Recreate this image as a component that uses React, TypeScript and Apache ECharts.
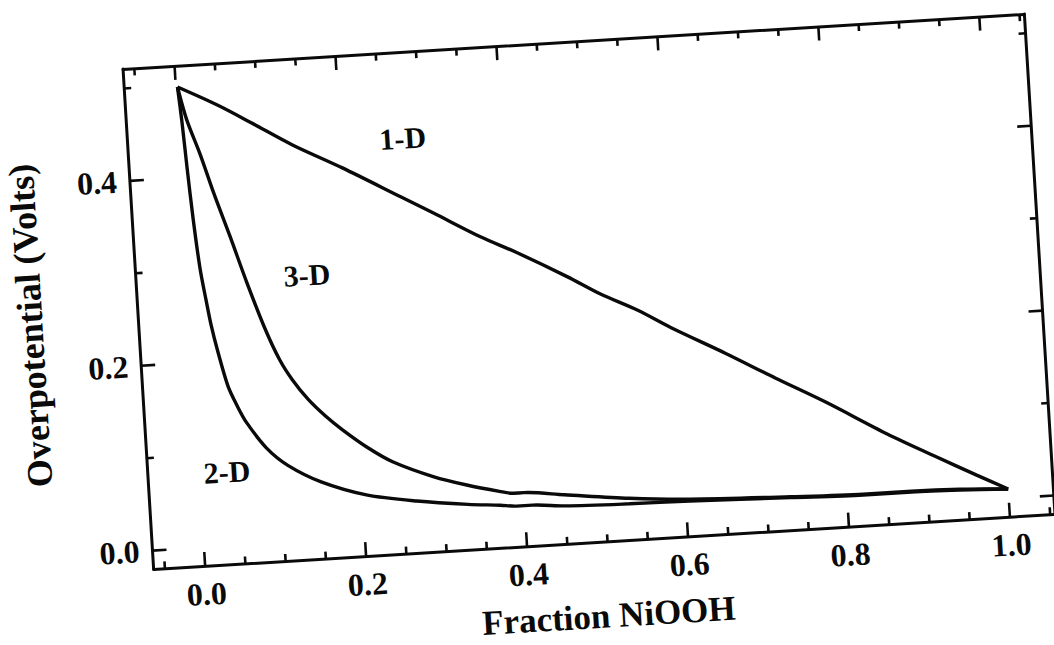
import React, { useEffect, useRef } from "react";
import * as echarts from "echarts";

// Overpotential vs. fraction NiOOH for 1-D, 2-D and 3-D diffusion geometries
const curve1D: [number, number][] = [
  [0.002, 0.498], [0.05, 0.476], [0.09, 0.455], [0.14, 0.428], [0.2, 0.4],
  [0.27, 0.365], [0.31, 0.345], [0.365, 0.317], [0.41, 0.297], [0.47, 0.268],
  [0.51, 0.247], [0.555, 0.227], [0.595, 0.206], [0.66, 0.175], [0.72, 0.145],
  [0.78, 0.116], [0.855, 0.077], [0.91, 0.051], [0.962, 0.027], [1.0, 0.01],
];

const curve2D: [number, number][] = [
  [0.002, 0.498], [0.0048, 0.462], [0.0078, 0.41], [0.0115, 0.354], [0.0163, 0.3],
  [0.0215, 0.265], [0.0255, 0.24], [0.032, 0.21], [0.042, 0.172], [0.052, 0.15],
  [0.062, 0.132], [0.085, 0.103], [0.11, 0.083], [0.15, 0.063], [0.205, 0.046],
  [0.267, 0.036], [0.33, 0.029], [0.37, 0.026], [0.39, 0.024], [0.41, 0.024],
  [0.45, 0.021], [0.53, 0.019], [0.605, 0.018], [0.73, 0.015], [0.82, 0.013],
  [0.88, 0.013], [0.94, 0.012], [1.0, 0.01],
];

const curve3D: [number, number][] = [
  [0.002, 0.498], [0.011, 0.462], [0.025, 0.424], [0.039, 0.381], [0.056, 0.333],
  [0.073, 0.283], [0.092, 0.232], [0.108, 0.197], [0.122, 0.175], [0.14, 0.153],
  [0.16, 0.134], [0.18, 0.118], [0.21, 0.097], [0.24, 0.08], [0.29, 0.061],
  [0.33, 0.05], [0.37, 0.041], [0.387, 0.038], [0.4, 0.038], [0.45, 0.033],
  [0.53, 0.025], [0.605, 0.02], [0.73, 0.016], [0.82, 0.014], [0.88, 0.014],
  [0.94, 0.013], [1.0, 0.01],
];

const curveLabels = [
  { name: "1-D", value: [0.277, 0.428] },
  { name: "3-D", value: [0.148, 0.287] },
  { name: "2-D", value: [0.034, 0.08] },
];

const X_MIN = -0.064;
const X_MAX = 1.056;
const Y_MIN = -0.02;
const Y_MAX = 0.521;

const xMajorTicks = [0, 0.2, 0.4, 0.6, 0.8, 1.0];
const xMinorTicks = [
  -0.05, 0.05, 0.1, 0.15, 0.25, 0.3, 0.35, 0.45, 0.5, 0.55,
  0.65, 0.7, 0.75, 0.85, 0.9, 0.95, 1.05,
];
const yMajorTicks = [0, 0.2, 0.4];
const yMinorTicks = [0.1, 0.3, 0.5];

const FONT = "'Liberation Serif', 'Times New Roman', serif";
const INK = "#0a0a0a";
const MAJOR_LEN = 14;
const MINOR_LEN = 7;
const TICK_W = 2.6;

function frameAxis(kind: "x" | "y", position: string, labels: number[] | null) {
  const isX = kind === "x";
  return {
    type: "value",
    position,
    min: isX ? X_MIN : Y_MIN,
    max: isX ? X_MAX : Y_MAX,
    splitLine: { show: false },
    axisLine: { show: true, onZero: false, lineStyle: { color: INK, width: 3 } },
    axisTick: { show: false },
    axisLabel: labels
      ? {
          show: true,
          customValues: labels,
          formatter: (v: number) => v.toFixed(1),
          color: INK,
          fontFamily: FONT,
          fontWeight: "bold",
          fontSize: 32,
          margin: isX ? 12 : 13,
        }
      : { show: false },
  };
}

export default function App() {
  const ref = useRef<HTMLDivElement>(null);

  useEffect(() => {
    if (!ref.current) return;
    const chart = echarts.init(ref.current, undefined, { renderer: "svg" });

    const lineSeries = (name: string, data: [number, number][]) => ({
      type: "line",
      name,
      data,
      xAxisIndex: 0,
      yAxisIndex: 0,
      showSymbol: false,
      smooth: 0.3,
      lineStyle: { color: INK, width: 3.4 },
      z: 3,
    });

    // every inward frame tick: [value, isMajor, onVerticalEdges]
    const tickData = [
      ...xMajorTicks.map((v) => [v, 1, 0]),
      ...xMinorTicks.map((v) => [v, 0, 0]),
      ...yMajorTicks.map((v) => [v, 1, 1]),
      ...yMinorTicks.map((v) => [v, 0, 1]),
    ];

    chart.setOption({
      animation: false,
      backgroundColor: "#ffffff",
      grid: { left: 137.5, top: 41, width: 903, height: 501, containLabel: false },
      xAxis: [
        {
          ...frameAxis("x", "bottom", xMajorTicks),
          name: "Fraction NiOOH",
          nameLocation: "middle",
          nameGap: 57,
          nameTextStyle: { color: INK, fontFamily: FONT, fontWeight: "bold", fontSize: 35 },
        },
        frameAxis("x", "top", null),
      ],
      yAxis: [
        {
          ...frameAxis("y", "left", yMajorTicks),
          name: "Overpotential (Volts)",
          nameLocation: "middle",
          nameRotate: 90,
          nameGap: 90,
          nameTextStyle: { color: INK, fontFamily: FONT, fontWeight: "bold", fontSize: 36 },
        },
        frameAxis("y", "right", null),
      ],
      series: [
        lineSeries("1-D", curve1D),
        lineSeries("2-D", curve2D),
        lineSeries("3-D", curve3D),
        {
          type: "custom",
          name: "frame ticks",
          xAxisIndex: 0,
          yAxisIndex: 0,
          silent: true,
          clip: false,
          data: tickData,
          renderItem: (_params: any, api: any) => {
            const v = api.value(0);
            const len = api.value(1) ? MAJOR_LEN : MINOR_LEN;
            if (api.value(2)) {
              const l = api.coord([X_MIN, v]);
              const r = api.coord([X_MAX, v]);
              return {
                type: "group",
                children: [
                  {
                    type: "rect",
                    shape: { x: l[0], y: l[1] - TICK_W / 2, width: len, height: TICK_W },
                    style: { fill: INK },
                  },
                  {
                    type: "rect",
                    shape: { x: r[0] - len, y: r[1] - TICK_W / 2, width: len, height: TICK_W },
                    style: { fill: INK },
                  },
                ],
              };
            }
            const b = api.coord([v, Y_MIN]);
            const t = api.coord([v, Y_MAX]);
            return {
              type: "group",
              children: [
                {
                  type: "rect",
                  shape: { x: b[0] - TICK_W / 2, y: b[1] - len, width: TICK_W, height: len },
                  style: { fill: INK },
                },
                {
                  type: "rect",
                  shape: { x: t[0] - TICK_W / 2, y: t[1], width: TICK_W, height: len },
                  style: { fill: INK },
                },
              ],
            };
          },
        },
        {
          type: "scatter",
          name: "curve labels",
          data: curveLabels,
          xAxisIndex: 0,
          yAxisIndex: 0,
          symbolSize: 1,
          itemStyle: { color: "rgba(0,0,0,0)", opacity: 1 },
          label: {
            show: true,
            position: "inside",
            formatter: "{b}",
            color: INK,
            opacity: 1,
            fontFamily: FONT,
            fontWeight: "bold",
            fontSize: 30,
          },
          z: 4,
        },
      ],
    });

    return () => chart.dispose();
  }, []);

  return (
    <div
      style={{
        position: "absolute",
        left: 0,
        top: 0,
        width: 1054,
        height: 645,
        overflow: "hidden",
        background: "#ffffff",
      }}
    >
      <div
        ref={ref}
        style={{
          width: 1054,
          height: 645,
          transform: "rotate(-3.5deg)",
          transformOrigin: "589px 291.5px",
        }}
      />
    </div>
  );
}
